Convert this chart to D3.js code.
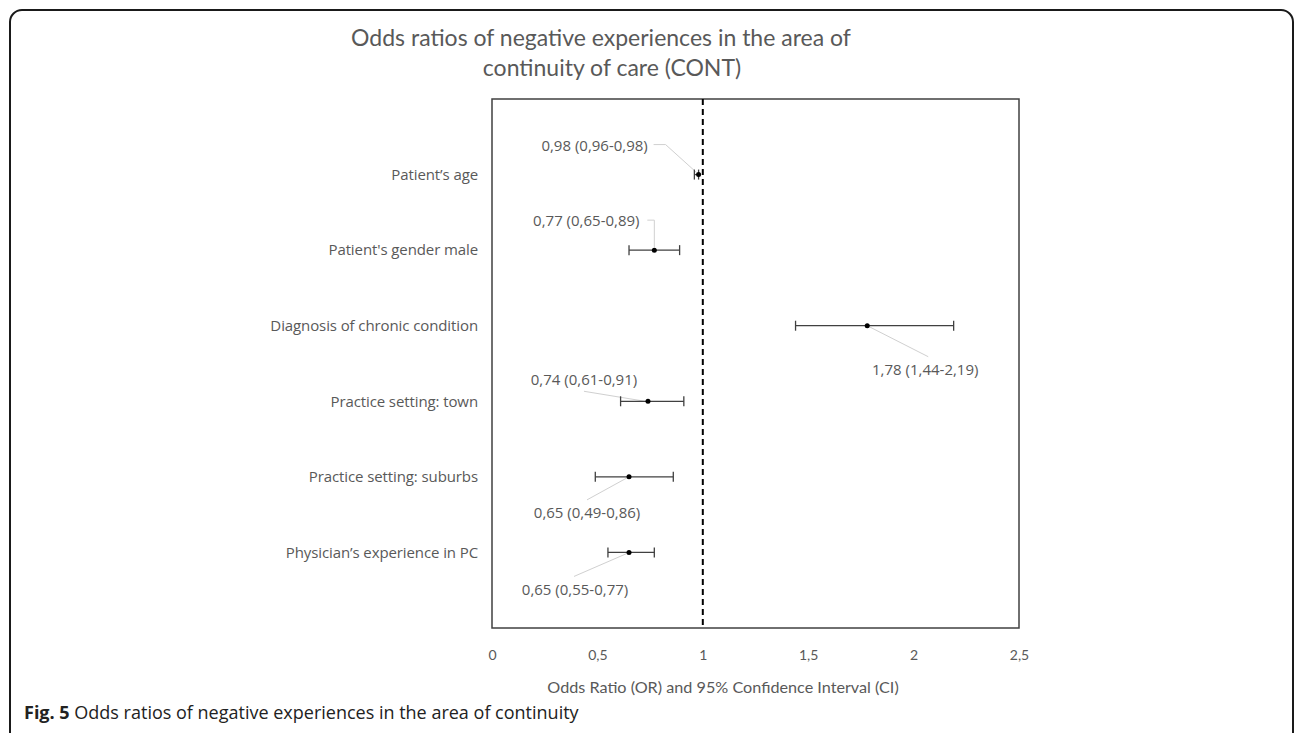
<!DOCTYPE html>
<html><head><meta charset="utf-8">
<script src="https://cdn.jsdelivr.net/npm/d3@7"></script>
<style>body{margin:0;background:#fff;overflow:hidden}</style>
</head><body>
<svg id="c" width="1295" height="733"></svg>
<script>
// ---- data ----
const categories = ["Patient’s age", "Patient's gender male", "Diagnosis of chronic condition",
  "Practice setting: town", "Practice setting: suburbs", "Physician’s experience in PC"];
const oddsRatio = [0.98, 0.77, 1.78, 0.74, 0.65, 0.65];
const ciLow = [0.96, 0.65, 1.44, 0.61, 0.49, 0.55];
const ciHigh = [0.98, 0.89, 2.19, 0.91, 0.86, 0.77];
const xTicks = [0, 0.5, 1, 1.5, 2, 2.5];
const referenceOR = 1;
const titleLines = ["Odds ratios of negative experiences in the area of", "continuity of care (CONT)"];
const xAxisTitle = "Odds Ratio (OR) and 95% Confidence Interval (CI)";

// ---- annotation layout (pixel offsets relative to each point) ----
const labelOffset = [[-104, -29], [-68, -29], [58, 44], [-64, -22], [-42, 36], [-54, 37]];
const leaderPts = [
  [[-45, -30], [-33, -30], [-2, -2]],
  [[-7, -30], [0, -30], [0, -3]],
  [[2, 1], [61, 31]],
  [[-64, -10], [-3, 0]],
  [[-42, 23], [-2, 1]],
  [[-55, 24], [-2, 1]]
];
const titleX = [601, 612];

const loc = d3.formatLocale({decimal: ",", thousands: ".", grouping: [3], currency: ["", ""]});
const f2 = loc.format(".2f");
const fTick = loc.format("~g");

const svg = d3.select("#c");
const plot = {left: 492, right: 1019, top: 99, bottom: 628};
const grey = "#595959";

// outer rounded frame
svg.append("rect").attr("x", 10).attr("y", 10).attr("width", 1283).attr("height", 780)
  .attr("rx", 12).attr("fill", "none").attr("stroke", "#1a1a1a").attr("stroke-width", 2);

const x = d3.scaleLinear().domain([xTicks[0], xTicks[xTicks.length - 1]]).range([plot.left, plot.right]);
const y = d3.scalePoint().domain(categories).range([plot.top, plot.bottom]).padding(1);

// title
svg.append("g").selectAll("text").data(titleLines).join("text")
  .attr("x", (d, i) => titleX[i]).attr("y", (d, i) => 38 + i * 30).attr("dy", "0.35em")
  .attr("text-anchor", "middle").attr("font-family", "Lato, 'Open Sans', sans-serif")
  .attr("font-size", 23).attr("fill", grey).text(d => d);

// plot frame
svg.append("rect").attr("x", plot.left).attr("y", plot.top)
  .attr("width", plot.right - plot.left).attr("height", plot.bottom - plot.top)
  .attr("fill", "none").attr("stroke", "#404040").attr("stroke-width", 1.5);

// x axis (labels only)
const xAxis = d3.axisBottom(x).tickValues(xTicks).tickFormat(fTick).tickSize(0).tickPadding(0);
const gx = svg.append("g").attr("transform", `translate(0,${plot.bottom})`).call(xAxis);
gx.select(".domain").remove();
gx.selectAll("text").attr("y", 27).attr("dy", "0.35em").attr("font-family", "Lato, sans-serif")
  .attr("font-size", 14).attr("fill", grey);

svg.append("text").attr("x", 723).attr("y", 687).attr("dy", "0.35em").attr("text-anchor", "middle")
  .attr("font-family", "Lato, sans-serif").attr("font-size", 16.2).attr("fill", grey).text(xAxisTitle);

// y axis labels
const yAxis = d3.axisLeft(y).tickSize(0).tickPadding(14);
const gy = svg.append("g").attr("transform", `translate(${plot.left},0)`).call(yAxis);
gy.select(".domain").remove();
gy.selectAll("text").attr("font-family", "'Open Sans', sans-serif").attr("font-size", 15)
  .attr("letter-spacing", "-0.1px").attr("fill", grey);

// reference dashed line
svg.append("line").attr("x1", x(referenceOR)).attr("x2", x(referenceOR))
  .attr("y1", plot.top).attr("y2", plot.bottom)
  .attr("stroke", "#000").attr("stroke-width", 2).attr("stroke-dasharray", "6,4");

const rows = categories.map((c, i) => ({c, or: oddsRatio[i], lo: ciLow[i], hi: ciHigh[i], i}));

// leader lines
svg.append("g").selectAll("polyline").data(rows).join("polyline")
  .attr("points", d => leaderPts[d.i].map(p => [x(d.or) + p[0], y(d.c) + p[1]].join(",")).join(" "))
  .attr("fill", "none").attr("stroke", "#d0d0d0").attr("stroke-width", 1);

// error bars
const eb = svg.append("g").selectAll("g").data(rows).join("g");
eb.append("line").attr("x1", d => x(d.lo)).attr("x2", d => x(d.hi))
  .attr("y1", d => y(d.c)).attr("y2", d => y(d.c)).attr("stroke", "#404040").attr("stroke-width", 1.3);
eb.append("line").attr("x1", d => x(d.lo)).attr("x2", d => x(d.lo))
  .attr("y1", d => y(d.c) - 5).attr("y2", d => y(d.c) + 5).attr("stroke", "#404040").attr("stroke-width", 1.3);
eb.append("line").attr("x1", d => x(d.hi)).attr("x2", d => x(d.hi))
  .attr("y1", d => y(d.c) - 5).attr("y2", d => y(d.c) + 5).attr("stroke", "#404040").attr("stroke-width", 1.3);
eb.append("circle").attr("cx", d => x(d.or)).attr("cy", d => y(d.c)).attr("r", 2.5).attr("fill", "#000");

// data labels
svg.append("g").selectAll("text").data(rows).join("text")
  .attr("x", d => x(d.or) + labelOffset[d.i][0]).attr("y", d => y(d.c) + labelOffset[d.i][1])
  .attr("dy", "0.35em").attr("text-anchor", "middle")
  .attr("font-family", "'Open Sans', sans-serif").attr("font-size", 15).attr("fill", grey)
  .text(d => `${f2(d.or)} (${f2(d.lo)}-${f2(d.hi)})`);

// caption
const cap = svg.append("text").attr("x", 24).attr("y", 713).attr("dy", "0.35em")
  .attr("font-family", "'Open Sans', sans-serif").attr("font-size", 18).attr("fill", "#222");
cap.append("tspan").attr("font-weight", "bold").text("Fig. 5");
cap.append("tspan").text(" Odds ratios of negative experiences in the area of continuity");
</script>
</body></html>
